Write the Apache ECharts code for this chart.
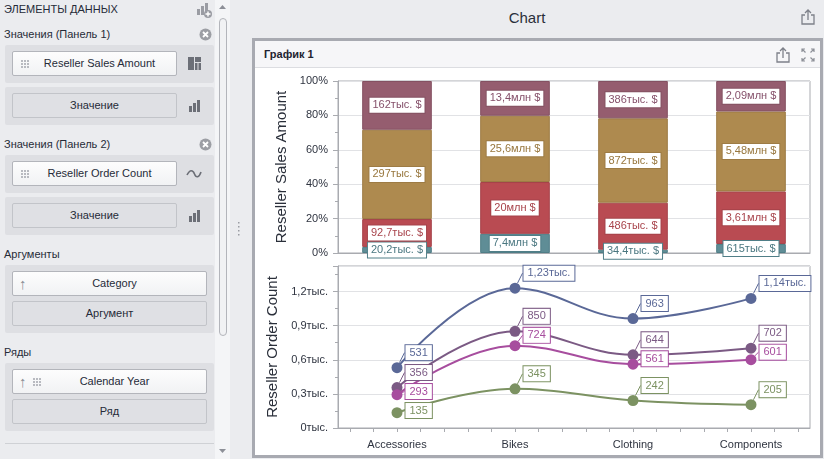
<!DOCTYPE html>
<html>
<head>
<meta charset="utf-8">
<script src="https://cdn.jsdelivr.net/npm/echarts@6/dist/echarts.min.js"></script>
<style>
body{margin:0;width:824px;height:459px;overflow:hidden;background:#ebecef;font-family:"Liberation Sans",Arial,sans-serif;font-size:11px;color:#262b38;position:relative}
.a{position:absolute}
.cap{position:absolute;left:4px;height:14px;line-height:14px;font-size:11px}
.grp{position:absolute;left:5px;width:209px;background:#dedfe3;border-radius:2px}
.btn{position:absolute;left:7px;width:163px;height:23px;line-height:23px;text-align:center;border:1px solid #b3b5bb;border-radius:2px;background:linear-gradient(#fdfdfd,#f1f2f4);box-sizing:content-box}
.btn.w{width:193px}
.btn.flat{background:#dfe0e4;border-color:#c2c4c9}
.btn .t{padding-left:10px}
.up{position:absolute;left:6px;top:0;color:#8a8d94;font-size:15px}
.ic{position:absolute}
</style>
</head>
<body>
<!-- left panel -->
<div class="a" style="left:215px;top:0;width:15px;height:459px;background:#f4f5f7"></div>
<svg class="a" style="left:218px;top:4px" width="9" height="6"><path d="M1 5 L4.5 1 L8 5 Z" fill="#8d9098"/></svg>
<svg class="a" style="left:218px;top:448px" width="9" height="6"><path d="M1 1 L4.5 5 L8 1 Z" fill="#8d9098"/></svg>
<div class="a" style="left:219px;top:18px;width:6px;height:316px;border:1px solid #b3b5bb;border-radius:4px;background:#f1f2f4"></div>
<svg class="a" style="left:237px;top:222px" width="4" height="15"><g fill="#9a9ca3"><rect x="1" y="0" width="1.5" height="1.5"/><rect x="1" y="4" width="1.5" height="1.5"/><rect x="1" y="8" width="1.5" height="1.5"/><rect x="1" y="12" width="1.5" height="1.5"/></g></svg>

<div class="cap" style="top:2px">ЭЛЕМЕНТЫ ДАННЫХ</div>
<svg class="ic" style="left:196px;top:2px" width="16" height="16"><g fill="#9a9ca3"><rect x="1" y="7" width="3" height="6"/><rect x="5" y="4" width="3" height="9"/><rect x="9" y="1" width="3" height="8"/><circle cx="12" cy="12" r="4"/></g><path d="M12 9.5v5M9.5 12h5" stroke="#fff" stroke-width="1.4"/></svg>

<div class="cap" style="top:27px">Значения (Панель 1)</div>
<svg class="ic" style="left:199px;top:28px" width="13" height="13"><circle cx="6.5" cy="6.5" r="6" fill="#9c9ea4"/><path d="M4 4L9 9M9 4L4 9" stroke="#fff" stroke-width="1.8"/></svg>
<div class="grp" style="top:45px;height:38px">
  <div class="btn" style="top:6px"><svg class="a" style="left:8px;top:8px" width="9" height="8"><g fill="#b8bac0"><rect x="0" y="0" width="2" height="2"/><rect x="3" y="0" width="2" height="2"/><rect x="6" y="0" width="2" height="2"/><rect x="0" y="3" width="2" height="2"/><rect x="3" y="3" width="2" height="2"/><rect x="6" y="3" width="2" height="2"/><rect x="0" y="6" width="2" height="2"/><rect x="3" y="6" width="2" height="2"/><rect x="6" y="6" width="2" height="2"/></g></svg><span class="t">Reseller Sales Amount</span></div>
  <svg class="ic" style="left:183px;top:12px" width="14" height="14"><g fill="#6c6f77"><rect x="0" y="0" width="6" height="13"/><rect x="7" y="0" width="6" height="5"/><rect x="7" y="6" width="2.5" height="7"/><rect x="10.5" y="6" width="2.5" height="7"/></g></svg>
</div>
<div class="grp" style="top:87px;height:38px">
  <div class="btn flat" style="top:6px">Значение</div>
  <svg class="ic" style="left:183px;top:12px" width="14" height="14"><g fill="#6c6f77"><rect x="1" y="7" width="3" height="6"/><rect x="5" y="4" width="3" height="9"/><rect x="9" y="1" width="3" height="12"/></g></svg>
</div>

<div class="cap" style="top:137px">Значения (Панель 2)</div>
<svg class="ic" style="left:199px;top:138px" width="13" height="13"><circle cx="6.5" cy="6.5" r="6" fill="#9c9ea4"/><path d="M4 4L9 9M9 4L4 9" stroke="#fff" stroke-width="1.8"/></svg>
<div class="grp" style="top:155px;height:38px">
  <div class="btn" style="top:6px"><svg class="a" style="left:8px;top:8px" width="9" height="8"><g fill="#b8bac0"><rect x="0" y="0" width="2" height="2"/><rect x="3" y="0" width="2" height="2"/><rect x="6" y="0" width="2" height="2"/><rect x="0" y="3" width="2" height="2"/><rect x="3" y="3" width="2" height="2"/><rect x="6" y="3" width="2" height="2"/><rect x="0" y="6" width="2" height="2"/><rect x="3" y="6" width="2" height="2"/><rect x="6" y="6" width="2" height="2"/></g></svg><span class="t">Reseller Order Count</span></div>
  <svg class="ic" style="left:181px;top:12px" width="16" height="14"><path d="M1 8 C4 2, 7 3, 8.5 7 S13 11, 15 5" fill="none" stroke="#6c6f77" stroke-width="1.6"/></svg>
</div>
<div class="grp" style="top:197px;height:38px">
  <div class="btn flat" style="top:6px">Значение</div>
  <svg class="ic" style="left:183px;top:12px" width="14" height="14"><g fill="#6c6f77"><rect x="1" y="7" width="3" height="6"/><rect x="5" y="4" width="3" height="9"/><rect x="9" y="1" width="3" height="12"/></g></svg>
</div>

<div class="cap" style="top:247px">Аргументы</div>
<div class="grp" style="top:265px;height:68px">
  <div class="btn w" style="top:6px"><span class="up">↑</span><span class="t">Category</span></div>
  <div class="btn w flat" style="top:36px">Аргумент</div>
</div>

<div class="cap" style="top:345px">Ряды</div>
<div class="grp" style="top:363px;height:68px">
  <div class="btn w" style="top:6px"><span class="up">↑</span><svg class="a" style="left:20px;top:8px" width="9" height="8"><g fill="#b8bac0"><rect x="0" y="0" width="2" height="2"/><rect x="3" y="0" width="2" height="2"/><rect x="6" y="0" width="2" height="2"/><rect x="0" y="3" width="2" height="2"/><rect x="3" y="3" width="2" height="2"/><rect x="6" y="3" width="2" height="2"/><rect x="0" y="6" width="2" height="2"/><rect x="3" y="6" width="2" height="2"/><rect x="6" y="6" width="2" height="2"/></g></svg><span class="t">Calendar Year</span></div>
  <div class="btn w flat" style="top:36px">Ряд</div>
</div>
<div class="a" style="left:5px;top:443px;width:209px;height:1px;background:#cfd1d5"></div>

<!-- right side -->
<div class="a" style="left:230px;top:8px;width:594px;text-align:center;font-size:15px;line-height:20px;color:#2a2f3a">Chart</div>
<svg class="ic" style="left:800px;top:8px" width="16" height="17"><path d="M5 7H2V16H14V7H11" fill="none" stroke="#7d8089" stroke-width="1.3"/><path d="M8 12V2M5 5L8 2L11 5" fill="none" stroke="#7d8089" stroke-width="1.3"/></svg>

<div class="a" style="left:252px;top:38px;width:565px;height:414px;border:3px solid #a8aab1;background:#fff"></div>
<div class="a" style="left:255px;top:41px;width:565px;height:26px;background:#f6f6f8;border-bottom:1px solid #dcdde1"></div>
<div class="a" style="left:264px;top:47px;font-weight:bold;font-size:11px;line-height:14px;color:#1e2330">График 1</div>
<svg class="ic" style="left:775px;top:46px" width="16" height="17"><path d="M5 7H2V16H14V7H11" fill="none" stroke="#7d8089" stroke-width="1.3"/><path d="M8 12V2M5 5L8 2L11 5" fill="none" stroke="#7d8089" stroke-width="1.3"/></svg>
<svg class="ic" style="left:801px;top:48px" width="14" height="14"><g fill="none" stroke="#8d9098" stroke-width="1.2"><path d="M1 4V1H4M1 1L4.5 4.5"/><path d="M10 1H13V4M13 1L9.5 4.5"/><path d="M1 10V13H4M1 13L4.5 9.5"/><path d="M13 10V13H10M13 13L9.5 9.5"/></g></svg>

<div id="chart" class="a" style="left:255px;top:69px;width:565px;height:386px"></div>

<script>
// categories on the x axis
var categories = ['Accessories', 'Bikes', 'Clothing', 'Components'];
var years = ['2005', '2006', '2007', '2008'];

// Reseller Sales Amount, from the bottom segment of each bar to the top
var sales2005 = [20200, 7400000, 34400, 615000];
var sales2006 = [92700, 20000000, 486000, 3610000];
var sales2007 = [297000, 25600000, 872000, 5480000];
var sales2008 = [162000, 13400000, 386000, 2090000];

// Reseller Order Count, one line per year
var orders2005 = [531, 1230, 963, 1140];
var orders2006 = [356, 850, 644, 702];
var orders2007 = [293, 724, 561, 601];
var orders2008 = [135, 345, 242, 205];

// tick labels
var pctTicks = [0, 20, 40, 60, 80, 100];
var countTicks = [0, 300, 600, 900, 1200];

var barColors = ['#5f8d96', '#b94b52', '#ae8a4f', '#955d6f'];
var barEdges = ['#507e87', '#a5434a', '#9d7b44', '#845162'];
var barText = ['#4a7780', '#a8434b', '#98773e', '#85506a'];
var lineColors = ['#5a6897', '#7b5a84', '#a74d9e', '#7c9262'];
var font = 'Liberation Sans';

function num(x) { return String(Number(x.toPrecision(3))).replace('.', ','); }
function money(v) { return v >= 1e6 ? num(v / 1e6) + 'млн $' : num(v / 1e3) + 'тыс. $'; }
function count(v) { return v >= 1000 ? num(v / 1000) + 'тыс.' : String(v); }

var salesSeries = [sales2005, sales2006, sales2007, sales2008];
var ordersSeries = [orders2005, orders2006, orders2007, orders2008];
var totals = categories.map(function (c, i) {
  return salesSeries.reduce(function (s, arr) { return s + arr[i]; }, 0);
});

// minor ticks of the lower x axis, five per category
var xTicks = [];
for (var k = -2; k <= 17; k++) xTicks.push(Math.round(k * 2) / 10);

var axisGray = '#a9abb0';
var gridGray = '#e1e2e5';
var labelColor = '#2f3440';

// line labels sit up-right of the point; a label that would cover the one
// placed before it in the same category slides down below it
var placed = {};
function lineLabelLayout(p) {
  if (p.seriesIndex === salesSeries.length && p.dataIndex === 0) placed = {};
  var r = p.labelRect;
  var top = r.y - 15;
  var prev = placed[p.dataIndex];
  if (prev !== undefined && top < prev + 2) top = prev + 2;
  placed[p.dataIndex] = top + r.height;
  return { dy: top - r.y };
}

var series = [];
salesSeries.forEach(function (arr, k) {
  series.push({
    name: years[k],
    type: 'bar',
    stack: 'sales',
    xAxisIndex: 0,
    yAxisIndex: 0,
    barWidth: '59%',
    data: arr.map(function (v, i) { return v / totals[i] * 100; }),
    itemStyle: { color: barColors[k], borderColor: barEdges[k], borderWidth: 1 },
    label: {
      show: true,
      position: 'inside',
      formatter: function (p) { return money(arr[p.dataIndex]); },
      backgroundColor: '#fff',
      borderColor: barEdges[k],
      borderWidth: 1,
      padding: [2, 3, 2, 3],
      color: barText[k],
      fontSize: 11,
      fontFamily: font
    },
    emphasis: { disabled: true }
  });
});
ordersSeries.forEach(function (arr, k) {
  series.push({
    name: years[k],
    type: 'line',
    xAxisIndex: 1,
    yAxisIndex: 1,
    smooth: 0.4,
    symbol: 'circle',
    symbolSize: 11,
    data: arr.map(function (v, i) { return [i, v]; }),
    lineStyle: { color: lineColors[k], width: 2 },
    itemStyle: { color: lineColors[k] },
    label: {
      show: true,
      position: 'right',
      distance: 3,
      formatter: function (p) { return count(p.value[1]); },
      backgroundColor: '#fff',
      borderColor: lineColors[k],
      borderWidth: 1,
      padding: [2, 4, 2, 4],
      color: lineColors[k],
      fontSize: 11,
      fontFamily: font
    },
    labelLine: { show: true, lineStyle: { color: lineColors[k], width: 1 } },
    labelLayout: lineLabelLayout,
    emphasis: { disabled: true }
  });
});

var chart = echarts.init(document.getElementById('chart'));
chart.setOption({
  animation: false,
  textStyle: { fontFamily: font },
  grid: [
    { left: 83, top: 12, width: 472, height: 172, show: true, borderColor: axisGray, borderWidth: 1, containLabel: false, outerBoundsMode: 'none' },
    { left: 83, top: 197, width: 472, height: 162, show: true, borderColor: axisGray, borderWidth: 1, containLabel: false, outerBoundsMode: 'none' }
  ],
  xAxis: [
    {
      type: 'category',
      gridIndex: 0,
      data: categories,
      axisLine: { show: true, lineStyle: { color: axisGray } },
      axisTick: { show: false },
      axisLabel: { show: false },
      splitLine: { show: false }
    },
    {
      type: 'value',
      gridIndex: 1,
      min: -0.5,
      max: 3.5,
      axisLine: { show: true, onZero: false, lineStyle: { color: axisGray } },
      axisTick: { show: true, customValues: xTicks, length: 4, lineStyle: { color: axisGray } },
      axisLabel: {
        customValues: [0, 1, 2, 3],
        formatter: function (v) { return categories[Math.round(v)]; },
        color: labelColor, fontSize: 11, margin: 11
      },
      splitLine: { show: false }
    }
  ],
  yAxis: [
    {
      type: 'value',
      gridIndex: 0,
      min: pctTicks[0],
      max: pctTicks[pctTicks.length - 1],
      interval: pctTicks[1] - pctTicks[0],
      name: 'Reseller Sales Amount',
      nameLocation: 'middle',
      nameGap: 47,
      nameTextStyle: { fontSize: 15, color: '#2a2f3a' },
      axisLine: { show: true, onZero: false, lineStyle: { color: axisGray } },
      axisTick: { show: true, length: 5, lineStyle: { color: axisGray } },
      minorTick: { show: true, splitNumber: 2, length: 3, lineStyle: { color: axisGray } },
      axisLabel: { formatter: '{value}%', color: labelColor, fontSize: 11, margin: 10 },
      splitLine: { show: true, lineStyle: { color: gridGray } }
    },
    {
      type: 'value',
      gridIndex: 1,
      min: countTicks[0],
      max: 1425,
      interval: countTicks[1] - countTicks[0],
      name: 'Reseller Order Count',
      nameLocation: 'middle',
      nameGap: 56,
      nameTextStyle: { fontSize: 15, color: '#2a2f3a' },
      axisLine: { show: true, onZero: false, lineStyle: { color: axisGray } },
      axisTick: { show: true, length: 5, lineStyle: { color: axisGray } },
      minorTick: { show: true, splitNumber: 2, length: 3, lineStyle: { color: axisGray } },
      axisLabel: {
        formatter: function (v) { return countTicks.indexOf(v) < 0 ? '' : num(v / 1000 || 0) + 'тыс.'; },
        color: labelColor, fontSize: 11, margin: 10
      },
      splitLine: { show: true, lineStyle: { color: gridGray } }
    }
  ],
  series: series
});
</script>
</body>
</html>
